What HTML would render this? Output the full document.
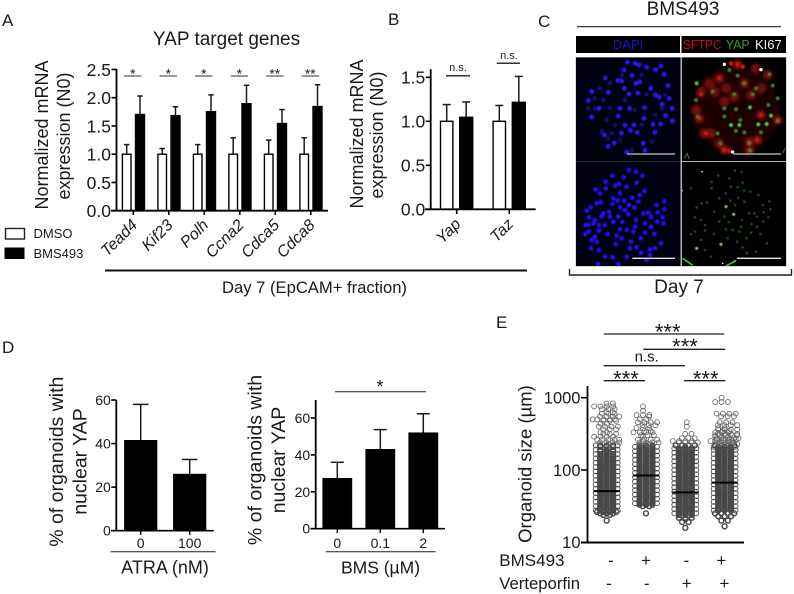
<!DOCTYPE html>
<html lang="en">
<head>
<meta charset="utf-8">
<title>YAP target genes figure</title>
<style>
html,body{margin:0;padding:0;background:#fff;}
svg{display:block;}
text{font-family:"Liberation Sans",sans-serif;fill:#1a1a1a;}
</style>
</head>
<body>
<svg id="figure" xmlns="http://www.w3.org/2000/svg" width="794" height="594" viewBox="0 0 794 594">
<defs>
<filter id="soft1" x="-10%" y="-10%" width="120%" height="120%"><feGaussianBlur stdDeviation="1.6"/></filter>
<filter id="soft2" x="-10%" y="-10%" width="120%" height="120%"><feGaussianBlur stdDeviation="5"/></filter>
</defs>
<rect width="794" height="594" fill="#fff"/>

<text x="2" y="26" font-size="17">A</text>
<text x="388" y="25" font-size="17">B</text>
<text x="538" y="27" font-size="17">C</text>
<text x="2" y="353" font-size="17">D</text>
<text x="496" y="328" font-size="17">E</text>

<text x="226.5" y="45" font-size="19" text-anchor="middle">YAP target genes</text>
<text transform="translate(48,135) rotate(-90)" font-size="18" text-anchor="middle">Normalized mRNA</text>
<text transform="translate(70,136) rotate(-90)" font-size="18" text-anchor="middle">expression (N0)</text>

<rect x="5.5" y="228.5" width="19" height="10.5" fill="#fff" stroke="#222" stroke-width="1.4"/>
<rect x="4.5" y="247.5" width="20" height="11.5" fill="#000"/>
<text x="33.5" y="238" font-size="13">DMSO</text>
<text x="33.5" y="258" font-size="13">BMS493</text>

<line x1="105" y1="270.5" x2="527" y2="270.5" stroke="#111" stroke-width="2"/>
<text x="314.5" y="293" font-size="16.6" text-anchor="middle">Day 7 (EpCAM+ fraction)</text>

<text transform="translate(363,134) rotate(-90)" font-size="18" text-anchor="middle">Normalized mRNA</text>
<text transform="translate(383,135) rotate(-90)" font-size="18" text-anchor="middle">expression (N0)</text>

<text x="683" y="15" font-size="19" text-anchor="middle">BMS493</text>
<line x1="577" y1="26.7" x2="781" y2="26.7" stroke="#222" stroke-width="1.2"/>
<rect x="576" y="36" width="104" height="17" fill="#000"/>
<rect x="681.5" y="36" width="104.5" height="17" fill="#000"/>
<text x="628" y="49" font-size="13" text-anchor="middle" style="fill:#1c10d0">DAPI</text>
<text x="683" y="49" font-size="12.5" textLength="38.5" lengthAdjust="spacingAndGlyphs" style="fill:#c81018">SFTPC</text>
<text x="725.7" y="49" font-size="12.5" style="fill:#2f9a20">YAP</text>
<text x="755" y="49" font-size="13" style="fill:#f2f2f2">KI67</text>
<rect x="575.5" y="57" width="211" height="209.5" fill="#b5b5b5"/>

<svg x="576" y="57.5" width="104.5" height="103.5" viewBox="3 7.5 313.5 310.5">
<rect x="0" y="0" width="330" height="330" fill="#010110"/>
<path fill="none" stroke="#140d66" stroke-width="14" stroke-linecap="round" filter="url(#soft1)" d="M60 130h0M105 85h0M85 135h0M140 60h0M215 118h0M180 165h0M260 160h0M240 180h0M95 195h0M80 230h0M110 235h0M230 260h0M135 255h0M170 285h0M60 160h0M105 160h0M200 60h0M150 135h0M120 210h0M200 210h0M270 120h0M75 100h0M40 160h0M100 250h0"/>
<path fill="none" stroke="#2a14ea" stroke-width="15" stroke-linecap="round" filter="url(#soft1)" d="M157 22h0M192 30h0M180 25h0M147 45h0M215 37h0M242 44h0M258 33h0M267 58h0M171 62h0M91 69h0M129 77h0M140 78h0M194 80h0M183 85h0M50 110h0M100 112h0M148 100h0M227 100h0M279 92h0M189 114h0M162 117h0M241 120h0M252 126h0M283 130h0M40 137h0M72 160h0M135 160h0M164 160h0M209 158h0M262 148h0M291 160h0M272 182h0M50 186h0M129 183h0M207 190h0M292 198h0M150 210h0M177 210h0M234 208h0M257 207h0M166 226h0M187 232h0M139 234h0M240 232h0M100 274h0M205 265h0M155 291h0M210 286h0M88 240h0M118 264h0"/>
<line x1="157" y1="297" x2="300" y2="297" stroke="#c8c8c8" stroke-width="4"/>
</svg>

<svg x="682" y="57.5" width="104" height="103.5" viewBox="3 7.5 312 310.5">
<rect x="0" y="0" width="330" height="330" fill="#000"/>
<circle cx="165" cy="165" r="130" fill="#1f0505" filter="url(#soft2)"/>
<path fill="none" stroke="#74100f" stroke-width="30" stroke-linecap="round" filter="url(#soft2)" d="M170 28h0M225 40h0M260 60h0M115 70h0M85 85h0M190 85h0M60 110h0M100 110h0M135 100h0M160 125h0M45 165h0M55 190h0M240 180h0M290 195h0M70 235h0M90 235h0M130 285h0M205 260h0M230 255h0M205 285h0M115 265h0M240 100h0M130 140h0M210 120h0"/>
<path fill="none" stroke="#c41616" stroke-width="14" stroke-linecap="round" filter="url(#soft1)" d="M170 28h0M185 35h0M150 25h0M190 85h0M60 118h0M240 180h0M75 235h0M130 285h0M145 288h0M205 262h0M228 255h0M205 285h0M55 190h0M115 70h0M290 195h0"/>
<path fill="none" stroke="#37802a" stroke-width="12" stroke-linecap="round" filter="url(#soft1)" d="M145 45h0M265 58h0M170 62h0M190 85h0M225 100h0M95 110h0M275 92h0M160 118h0M215 118h0M45 135h0M262 150h0M290 130h0M165 163h0M130 160h0M50 185h0M130 185h0M178 195h0M290 198h0M240 232h0M190 232h0M165 228h0M110 235h0M205 265h0M118 265h0M208 287h0"/>
<path fill="none" stroke="#46cf30" stroke-width="12" stroke-linecap="round" filter="url(#soft1)" d="M47 85h0M207 157h0M270 182h0M150 210h0M232 208h0M257 207h0M175 210h0"/>
<path fill="none" stroke="#fff" stroke-width="10" stroke-linecap="round" d="M130 28h0M240 44h0M155 291h0"/>
<path fill="none" stroke="#2a6a20" stroke-width="4" d="M10 310L18 295L25 312M305 295L312 280"/>
<line x1="157" y1="297" x2="300" y2="297" stroke="#c8c8c8" stroke-width="4"/>
</svg>

<svg x="576" y="162" width="104.5" height="104" viewBox="3 6 313.5 312">
<rect x="0" y="0" width="330" height="330" fill="#010112"/>
<path fill="none" stroke="#2310f5" stroke-width="14" stroke-linecap="round" filter="url(#soft1)" d="M162 30h0M183 35h0M112 47h0M202 47h0M146 52h0M185 68h0M92 65h0M132 72h0M120 77h0M155 80h0M92 85h0M62 88h0M75 100h0M135 100h0M208 93h0M172 113h0M194 105h0M115 115h0M128 122h0M78 127h0M65 130h0M148 122h0M190 125h0M162 135h0M112 132h0M135 142h0M178 142h0M268 124h0M245 135h0M268 148h0M47 142h0M35 152h0M85 160h0M102 155h0M160 163h0M205 160h0M220 158h0M248 157h0M42 172h0M60 180h0M80 170h0M130 170h0M183 180h0M228 170h0M262 172h0M55 190h0M72 195h0M115 185h0M143 186h0M210 190h0M247 185h0M265 190h0M32 195h0M180 200h0M228 200h0M135 208h0M155 210h0M72 212h0M98 222h0M175 215h0M210 218h0M42 215h0M238 222h0M60 230h0M30 222h0M125 227h0M140 235h0M197 235h0M65 245h0M168 245h0M50 240h0M122 252h0M258 250h0M185 262h0M48 265h0M72 270h0M165 265h0M225 268h0M240 265h0M198 278h0M90 290h0M155 290h0M225 285h0M113 292h0M130 312h0M70 312h0M215 300h0M40 195h0M90 195h0M105 170h0M150 150h0"/>
<line x1="172" y1="295" x2="300" y2="295" stroke="#e6e6e6" stroke-width="4"/>
</svg>

<svg x="682" y="162" width="104" height="104" viewBox="3 6 312 312">
<rect x="0" y="0" width="330" height="330" fill="#000"/>
<path fill="none" stroke="#2c6e22" stroke-width="7" stroke-linecap="round" filter="url(#soft1)" d="M112 47h0M145 55h0M162 32h0M182 36h0M92 66h0M185 68h0M150 80h0M170 82h0M92 85h0M190 92h0M135 100h0M208 95h0M172 113h0M115 115h0M232 105h0M265 124h0M78 127h0M62 130h0M148 122h0M190 125h0M162 135h0M245 135h0M268 148h0M47 142h0M100 155h0M205 160h0M220 160h0M248 157h0M42 172h0M60 180h0M130 170h0M183 180h0M228 170h0M262 172h0M72 195h0M115 185h0M143 186h0M212 192h0M247 185h0M180 200h0M228 200h0M135 208h0M155 210h0M72 212h0M98 222h0M175 215h0M210 218h0M42 215h0M238 222h0M60 240h0M30 222h0M140 235h0M197 235h0M168 245h0M258 250h0M185 262h0M72 270h0M225 275h0M198 278h0M90 290h0M30 85h0"/>
<path fill="none" stroke="#8fe070" stroke-width="9" stroke-linecap="round" filter="url(#soft1)" d="M135 140h0M158 163h0M120 253h0M47 265h0"/>
<path fill="none" stroke="#f4f4f4" stroke-width="5" stroke-linecap="round" d="M160 303h0M125 310h0M63 35h0M3 92h0"/>
<path fill="none" stroke="#4eb83a" stroke-width="5" d="M5 295L35 316M135 318L165 302"/>
<line x1="168" y1="295" x2="300" y2="295" stroke="#e6e6e6" stroke-width="4"/>
</svg>

<line x1="576" y1="161.5" x2="680.5" y2="161.5" stroke="#2a2a2a" stroke-width="1"/>
<path d="M569.5 269V275H791.5V269" fill="none" stroke="#222" stroke-width="1.4"/>
<text x="679" y="293" font-size="19" text-anchor="middle">Day 7</text>

<text transform="translate(63,461.7) rotate(-90)" font-size="19.5" text-anchor="middle">% of organoids with</text>
<text transform="translate(86.5,461.5) rotate(-90)" font-size="19.5" text-anchor="middle">nuclear YAP</text>
<text transform="translate(261.5,460) rotate(-90)" font-size="19.5" text-anchor="middle">% of organoids with</text>
<text transform="translate(285,460) rotate(-90)" font-size="19.5" text-anchor="middle">nuclear YAP</text>
<line x1="110.5" y1="551.7" x2="215.5" y2="551.7" stroke="#222" stroke-width="1"/>
<text x="165" y="573.5" font-size="18" text-anchor="middle">ATRA (nM)</text>
<line x1="325.7" y1="551.7" x2="435.7" y2="551.7" stroke="#222" stroke-width="1"/>
<text x="380.5" y="573.5" font-size="17.5" text-anchor="middle">BMS (µM)</text>
<line x1="335" y1="391.7" x2="426" y2="391.7" stroke="#222" stroke-width="1"/>
<text x="380" y="393" font-size="18" text-anchor="middle">*</text>

<text transform="translate(531.5,464) rotate(-90)" font-size="18.5" text-anchor="middle">Organoid size (µm)</text>
<line x1="603.7" y1="334" x2="724.3" y2="334" stroke="#222" stroke-width="1.3"/>
<text x="667.7" y="339.5" font-size="22" text-anchor="middle">***</text>
<line x1="643.3" y1="349.3" x2="725.3" y2="349.3" stroke="#222" stroke-width="1.3"/>
<text x="685" y="354" font-size="22" text-anchor="middle">***</text>
<line x1="603.7" y1="365.7" x2="685" y2="365.7" stroke="#222" stroke-width="1.3"/>
<text x="646.7" y="361.7" font-size="15" text-anchor="middle">n.s.</text>
<line x1="603.7" y1="380.7" x2="645" y2="380.7" stroke="#222" stroke-width="1.3"/>
<text x="626" y="386.5" font-size="22" text-anchor="middle">***</text>
<line x1="684" y1="380.7" x2="725.3" y2="380.7" stroke="#222" stroke-width="1.3"/>
<text x="705.7" y="386.5" font-size="22" text-anchor="middle">***</text>
<text x="499.3" y="566" font-size="17">BMS493</text>
<text x="499.3" y="589" font-size="16.7">Verteporfin</text>
<g id="plots"></g>
</svg>

<script>
/* Panel A */
const aGenes = ['Tead4', 'Kif23', 'Polh', 'Ccna2', 'Cdca5', 'Cdca8'];
const aDmso = [1, 1, 1, 1, 1, 1];
const aDmsoErr = [0.17, 0.10, 0.17, 0.29, 0.25, 0.29];
const aBms = [1.71, 1.69, 1.76, 1.90, 1.55, 1.85];
const aBmsErr = [0.32, 0.15, 0.29, 0.32, 0.24, 0.38];
const aSig = ['*', '*', '*', '*', '**', '**'];
const aTicks = [0, 0.5, 1, 1.5, 2, 2.5];
/* Panel B */
const bGenes = ['Yap', 'Taz'];
const bDmso = [1, 1];
const bDmsoErr = [0.19, 0.18];
const bBms = [1.05, 1.22];
const bBmsErr = [0.17, 0.29];
const bSig = ['n.s.', 'n.s.'];
const bTicks = [0, 0.5, 1, 1.5];
/* Panel D */
const dAtraLabels = ['0', '100'];
const dAtraValues = [41.5, 26];
const dAtraErr = [16.5, 6.7];
const dAtraTicks = [0, 20, 40, 60];
const dBmsLabels = ['0', '0.1', '2'];
const dBmsValues = [27.3, 43, 52];
const dBmsErr = [8.7, 10.7, 10.3];
const dBmsTicks = [0, 20, 40, 60];
/* Panel E: log10(size) bins and organoid count per bin, one row per 0.2 log units */
const eLogBins = [
1.20,1.22,1.24,1.26,1.28,1.30,1.32,1.34,1.36,1.38,
1.40,1.42,1.44,1.46,1.48,1.50,1.52,1.54,1.56,1.58,
1.60,1.62,1.64,1.66,1.68,1.70,1.72,1.74,1.76,1.78,
1.80,1.82,1.84,1.86,1.88,1.90,1.92,1.94,1.96,1.98,
2.00,2.02,2.04,2.06,2.08,2.10,2.12,2.14,2.16,2.18,
2.20,2.22,2.24,2.26,2.28,2.30,2.32,2.34,2.36,2.38,
2.40,2.42,2.44,2.46,2.48,2.50,2.52,2.54,2.56,2.58,
2.60,2.62,2.64,2.66,2.68,2.70,2.72,2.74,2.76,2.78,
2.80,2.82,2.84,2.86,2.88,2.90,2.92,2.94,2.96,2.98,
3.00];
const eCountsControl = [
0,0,0,0,0,1,0,0,0,2,
3,4,5,3,3,5,3,3,5,3,
3,5,3,3,5,3,3,5,3,3,
5,3,3,5,3,3,5,3,3,5,
3,3,5,3,3,5,3,3,5,3,
1,5,1,3,5,0,3,5,1,4,
0,5,0,4,0,3,2,0,3,0,
4,0,2,0,3,5,0,4,0,3,
2,0,3,0,4,0,2,0,0,0,
0];
const eCountsBms = [
0,0,0,0,0,0,0,0,0,0,
1,0,0,0,0,2,3,5,3,3,
5,3,3,5,3,3,5,3,3,5,
3,3,5,3,3,5,3,3,5,3,
3,5,3,3,5,3,3,5,3,3,
5,3,3,5,3,3,5,3,1,4,
1,4,0,1,3,0,4,2,0,3,
0,3,0,4,0,2,0,1,3,0,
0,1,0,0,1,0,0,0,0,0,
0];
const eCountsVerteporfin = [
1,0,0,0,2,0,1,3,0,3,
5,3,3,5,3,3,5,3,3,5,
3,3,5,3,3,5,3,3,5,3,
3,5,3,3,5,3,3,5,3,3,
5,3,3,5,3,3,5,3,3,5,
3,3,5,3,3,5,1,4,0,4,
4,0,3,0,0,2,0,0,0,0,
1,0,0,1,0,0,0,0,0,0,
0,0,0,0,0,0,0,0,0,0,
0];
const eCountsBoth = [
0,1,0,0,0,2,0,0,3,0,
4,0,5,3,3,5,3,3,5,3,
3,5,3,3,5,3,3,5,3,3,
5,3,3,5,3,3,5,3,3,5,
3,3,5,3,3,5,3,3,5,3,
3,5,3,3,5,3,5,4,5,3,
5,4,5,3,5,4,3,2,4,2,
0,4,0,3,0,0,0,3,0,4,
0,0,0,0,0,0,0,3,0,0,
1];
const eMedians = [51, 84, 49, 67];
const eTicks = [10, 100, 1000];
const eBmsRow = ['-', '+', '-', '+'];
const eVerteporfinRow = ['-', '-', '+', '+'];

const NS = 'http://www.w3.org/2000/svg';
const plots = document.getElementById('plots');

function add(tag, name, attrs, text) {
  const el = document.createElementNS(NS, tag);
  
  
  for (const k in attrs) el.setAttribute(k, attrs[k]);
  if (text !== undefined) el.textContent = text;
  plots.appendChild(el);
  return el;
}
function seg(name, x1, y1, x2, y2, w, color) {
  return add('line', name, {x1: x1, y1: y1, x2: x2, y2: y2, stroke: color || '#000', 'stroke-width': w});
}
function yAxis(prefix, x, top, bottom, ticks, y, size, fmt, tickLen) {
  seg(prefix + '-y-axis', x, top, x, bottom, 1.8);
  ticks.forEach(function (t) {
    seg(prefix + '-y-tick', x - tickLen, y(t), x, y(t), 1.6);
    add('text', prefix + '-y-tick-label', {x: x - tickLen - 0.5, y: y(t) + size * 0.36, 'font-size': size, 'text-anchor': 'end'}, fmt(t));
  });
}
function bar(name, cx, w, value, err, y, base, hollow, cap) {
  const top = y(value + err);
  seg(name + '-error-stem', cx, top, cx, y(value), 1.5, '#1a1a1a');
  seg(name + '-error-cap', cx - cap / 2, top, cx + cap / 2, top, 1.5, '#1a1a1a');
  add('rect', name, {x: cx - w / 2, y: y(value), width: w, height: base - y(value), fill: hollow ? '#fff' : '#000', stroke: '#000', 'stroke-width': hollow ? 1.4 : 0.6});
}

/* Panel A */
const yA = function (v) { return 210.7 - v * 56.5; };
const xA = function (i) { return 133.3 + 35.5 * i; };
aGenes.forEach(function (g, i) {
  bar('bar-dmso-' + g, xA(i) - 6.6, 8.6, aDmso[i], aDmsoErr[i], yA, 210.7, true, 5.5);
  bar('bar-bms493-' + g, xA(i) + 6.7, 9.8, aBms[i], aBmsErr[i], yA, 210.7, false, 5.5);
  seg('significance-line-' + g, xA(i) - 9.2, 76, xA(i) + 8.2, 76, 1, '#333');
  add('text', 'significance-stars-' + g, {x: xA(i) - 0.5, y: 78.5, 'font-size': 14, 'text-anchor': 'middle'}, aSig[i]);
  seg('x-tick-' + g, xA(i), 210.7, xA(i), 215, 1.6);
  add('text', 'gene-label-' + g, {transform: 'translate(' + (xA(i) + 5) + ',226) rotate(-45)', 'font-size': 16, 'font-style': 'italic', 'text-anchor': 'end'}, g);
});
yAxis('panel-a', 116.5, 69, 211, aTicks, yA, 17.5, function (t) { return t.toFixed(1); }, 5);
seg('panel-a-x-axis', 111, 210.7, 328, 210.7, 1.8);

/* Panel B */
const yB = function (v) { return 209.3 - v * 88; };
const xB = function (i) { return 456.7 + 52.6 * i; };
bGenes.forEach(function (g, i) {
  bar('bar-dmso-' + g, xB(i) - 10, 12.4, bDmso[i], bDmsoErr[i], yB, 209.3, true, 8);
  bar('bar-bms493-' + g, xB(i) + 9.5, 13.8, bBms[i], bBmsErr[i], yB, 209.3, false, 8);
  seg('x-tick-' + g, xB(i), 209.3, xB(i), 214, 1.6);
  add('text', 'gene-label-' + g, {transform: 'translate(' + (xB(i) + 5) + ',225) rotate(-45)', 'font-size': 16, 'font-style': 'italic', 'text-anchor': 'end'}, g);
});
seg('ns-line-yap', 446, 75.7, 470, 75.7, 1.5, '#333');
add('text', 'ns-label-yap', {x: 458, y: 71, 'font-size': 11, 'text-anchor': 'middle'}, bSig[0]);
seg('ns-line-taz', 496.7, 63.3, 520, 63.3, 1.5, '#333');
add('text', 'ns-label-taz', {x: 509, y: 59, 'font-size': 11, 'text-anchor': 'middle'}, bSig[1]);
yAxis('panel-b', 430.7, 69.3, 210, bTicks, yB, 17.5, function (t) { return t.toFixed(1); }, 5);
seg('panel-b-x-axis', 425, 209.3, 535.7, 209.3, 1.8);

/* Panel D left */
const yDL = function (v) { return 530.7 - v * 2.178; };
const xDL = function (i) { return 140.7 + 49 * i; };
dAtraValues.forEach(function (v, i) {
  bar('bar-atra-' + dAtraLabels[i], xDL(i), 32.6, v, dAtraErr[i], yDL, 530.7, false, 15.5);
  seg('atra-x-tick', xDL(i), 530.7, xDL(i), 535, 1.5);
  add('text', 'atra-x-label', {x: xDL(i), y: 548, 'font-size': 14, 'text-anchor': 'middle'}, dAtraLabels[i]);
});
yAxis('panel-d-left', 116.3, 400, 531.5, dAtraTicks, yDL, 14, String, 5);
seg('panel-d-left-x-axis', 111, 530.7, 213.7, 530.7, 1.6);

/* Panel D right */
const yDR = function (v) { return 528.7 - v * 1.845; };
const xDR = function (i) { return 337.3 + 43 * i; };
dBmsValues.forEach(function (v, i) {
  bar('bar-bms-' + dBmsLabels[i], xDR(i), 29.2, v, dBmsErr[i], yDR, 528.7, false, 13);
  seg('bms-x-tick', xDR(i), 528.7, xDR(i), 533, 1.5);
  add('text', 'bms-x-label', {x: xDR(i), y: 548, 'font-size': 14, 'text-anchor': 'middle'}, dBmsLabels[i]);
});
yAxis('panel-d-right', 315.7, 400, 529.5, dBmsTicks, yDR, 14, String, 5);
seg('panel-d-right-x-axis', 310.5, 528.7, 445, 528.7, 1.6);

/* Panel E */
const yELog = function (l) { return 542.3 - (l - 1) * 72.3; };
const yE = function (v) { return yELog(Math.log10(v)); };
const xE = function (i) { return 606.7 + 39.3 * i; };
const swarmSlots = {1: [0], 2: [-3.2, 3.2], 3: [0, -6.4, 6.4], 4: [-3.2, 3.2, -9.6, 9.6], 5: [0, -6.4, 6.4, -11, 11]};
const sparseShift = [-3, 1.5, 3];
[eCountsControl, eCountsBms, eCountsVerteporfin, eCountsBoth].forEach(function (counts, g) {
  counts.forEach(function (n, b) {
    if (!n) return;
    const sparse = eLogBins[b] > 2.34;
    const shift = sparse ? sparseShift[b % 3] : 0;
    (swarmSlots[n] || swarmSlots[5]).forEach(function (dx) {
      add('circle', 'organoid-point', {cx: xE(g) + dx + shift, cy: yELog(eLogBins[b]), r: 2.45, fill: 'none', stroke: sparse ? '#666' : '#484848', 'stroke-width': sparse ? 0.85 : (Math.abs(dx) > 10 ? 0.9 : 1.45)});
    });
  });
  seg('median-line', xE(g) - 13, yE(eMedians[g]), xE(g) + 13, yE(eMedians[g]), 2);
  add('text', 'bms493-sign', {x: 611 + [0, 35, 75.3, 110.3][g], y: 566, 'font-size': 17, 'text-anchor': 'middle'}, eBmsRow[g]);
  add('text', 'verteporfin-sign', {x: 609 + [0, 37.7, 77.7, 115.3][g], y: 589, 'font-size': 17, 'text-anchor': 'middle'}, eVerteporfinRow[g]);
});
yAxis('panel-e', 587.5, 386, 543, eTicks, yE, 16.5, String, 6.5);
seg('panel-e-x-axis', 581, 542.5, 744, 542.5, 2);
</script>
</body>
</html>
